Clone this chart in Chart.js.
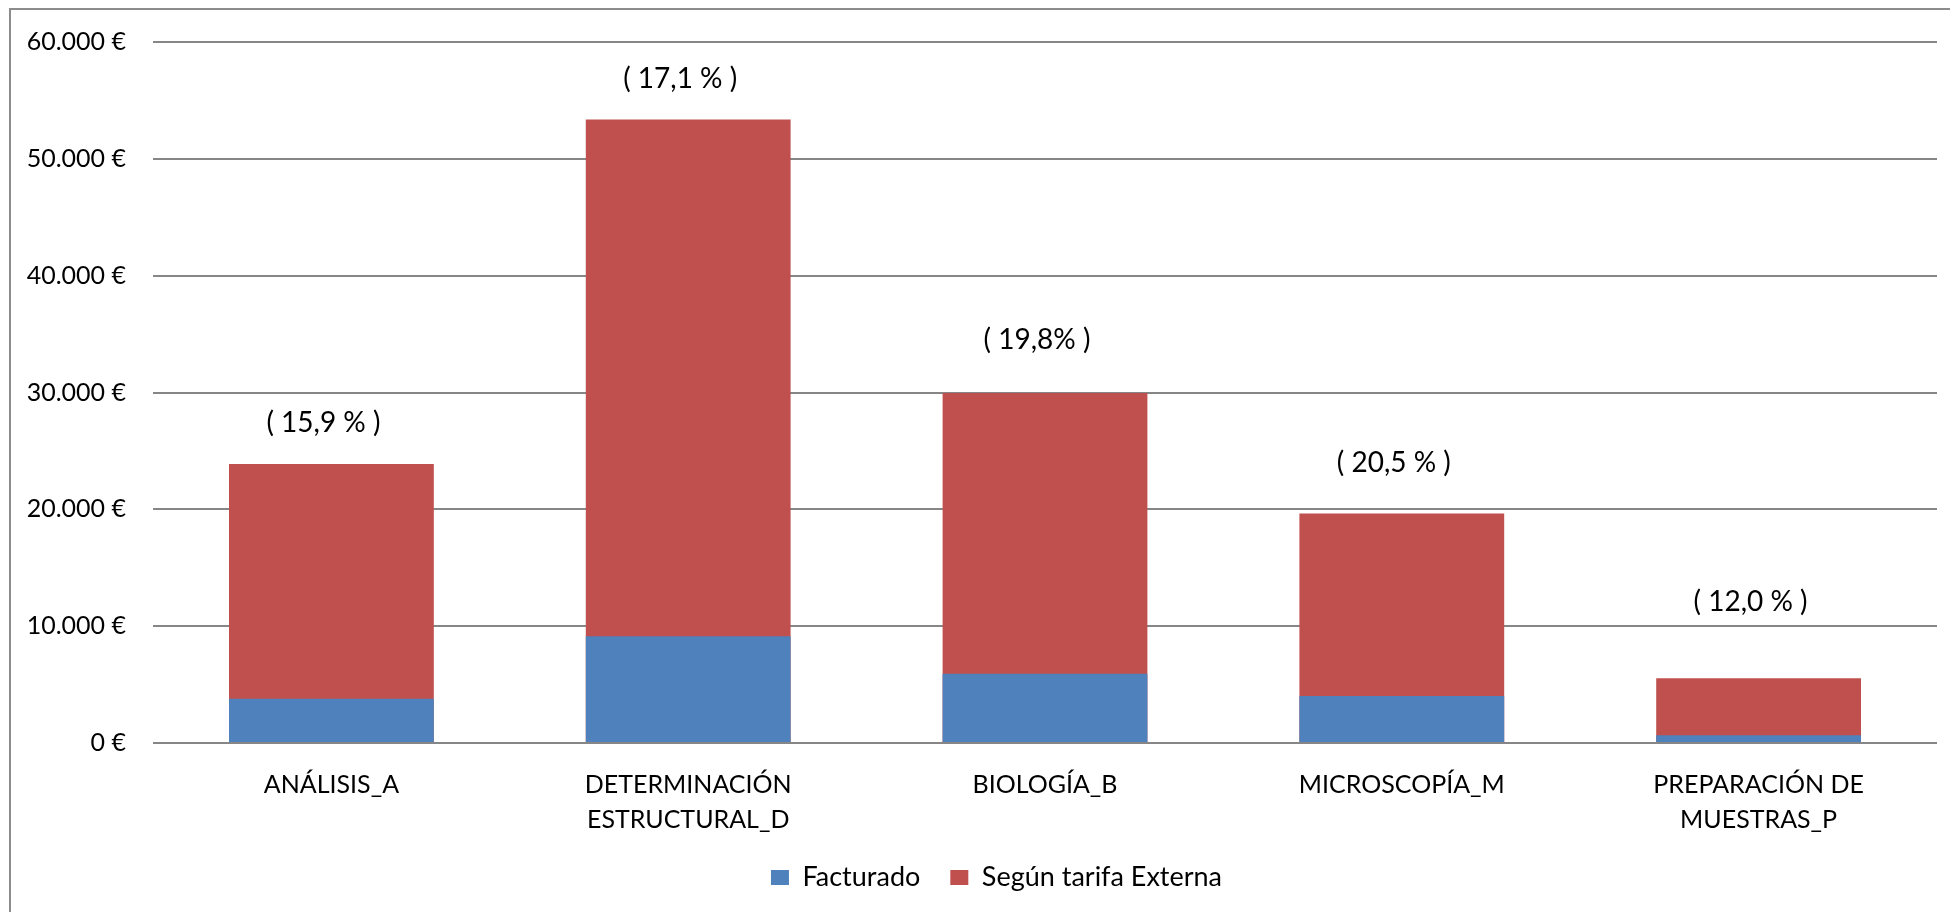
<!DOCTYPE html>
<html>
<head>
<meta charset="utf-8">
<script src="https://cdn.jsdelivr.net/npm/chart.js@4"></script>
<style>
  body { margin: 0; background: #fff; overflow: hidden; }
  #frame {
    position: absolute; left: 9px; top: 8px;
    width: 2000px; height: 1000px;
    border: 2px solid #8c8c8c;
  }
  #myChart { position: absolute; left: 0; top: 0; }
</style>
</head>
<body>
<div id="frame"></div>
<canvas id="myChart" width="1950" height="912"></canvas>
<script>
const categories = [
  "ANÁLISIS_A",
  ["DETERMINACIÓN", "ESTRUCTURAL_D"],
  "BIOLOGÍA_B",
  "MICROSCOPÍA_M",
  ["PREPARACIÓN DE", "MUESTRAS_P"],
];
const facturado = [3790, 9130, 5930, 4030, 665];
const tarifaExterna = [23870, 53370, 29950, 19650, 5540];
const percentLabels = ["( 15,9 % )", "( 17,1 % )", "( 19,8% )", "( 20,5 % )", "( 12,0 % )"];
const yTicks = [0, 10000, 20000, 30000, 40000, 50000, 60000];

const FONT = "Lato";

function euro(v) {
  return String(v).replace(/\B(?=(\d{3})+(?!\d))/g, ".") + " €";
}

// draws the "( xx % )" text above each bar
const percentPlugin = {
  id: "percentLabels",
  afterDatasetsDraw(chart, args, opts) {
    const ctx = chart.ctx;
    const meta = chart.getDatasetMeta(1);
    ctx.save();
    ctx.font = "28px " + FONT;
    ctx.fillStyle = "#000";
    ctx.textAlign = "center";
    ctx.textBaseline = "middle";
    meta.data.forEach((bar, i) => {
      ctx.fillText(percentLabels[i], bar.x - 8, bar.y - opts.offsets[i]);
    });
    ctx.restore();
  },
};

// nudge the legend a bit, like the original
const legendShift = {
  id: "legendShift",
  afterLayout(chart, args, opts) {
    const lg = chart.legend;
    if (!lg) return;
    lg.left += opts.dx;
    lg.right += opts.dx;
    lg.top += opts.dy;
    lg.bottom += opts.dy;
  },
};

const ctx = document.getElementById("myChart").getContext("2d");
const myChart = new Chart(ctx, {
  type: "bar",
  data: {
    labels: categories,
    datasets: [
      {
        label: "Facturado",
        data: facturado,
        backgroundColor: "#4F81BD",
        borderWidth: 0,
      },
      {
        label: "Según tarifa Externa",
        data: tarifaExterna,
        backgroundColor: "#C0504D",
        borderWidth: 0,
      },
    ],
  },
  options: {
    responsive: false,
    animation: false,
    categoryPercentage: 1,
    barPercentage: 0.574,
    layout: {
      padding: { top: 39, right: 13, left: 0, bottom: 6 },
    },
    scales: {
      x: {
        stacked: true,
        grid: { display: false, drawTicks: false },
        border: { display: false },
        ticks: {
          color: "#000",
          padding: 24,
          maxRotation: 0,
          autoSkip: false,
          font: { family: FONT, size: 25, lineHeight: 1.4 },
        },
        afterFit(axis) {
          axis.height = 96;
        },
      },
      y: {
        min: 0,
        max: 60000,
        afterBuildTicks(axis) {
          axis.ticks = yTicks.map((v) => ({ value: v }));
        },
        grid: { color: "#868686", lineWidth: 2, drawTicks: false },
        border: { display: false },
        ticks: {
          color: "#000",
          padding: 27,
          font: { family: FONT, size: 25 },
          callback: (v) => euro(v),
        },
        afterFit(axis) {
          axis.width = 153;
        },
      },
    },
    plugins: {
      legend: {
        position: "bottom",
        labels: {
          color: "#000",
          boxWidth: 18,
          boxHeight: 15,
          padding: 30,
          font: { family: FONT, size: 27 },
        },
      },
      tooltip: { enabled: false },
      percentLabels: {
        offsets: [41, 40, 53, 50, 76],
      },
      legendShift: { dx: 28, dy: -5 },
    },
  },
  plugins: [percentPlugin, legendShift],
});
</script>
</body>
</html>
